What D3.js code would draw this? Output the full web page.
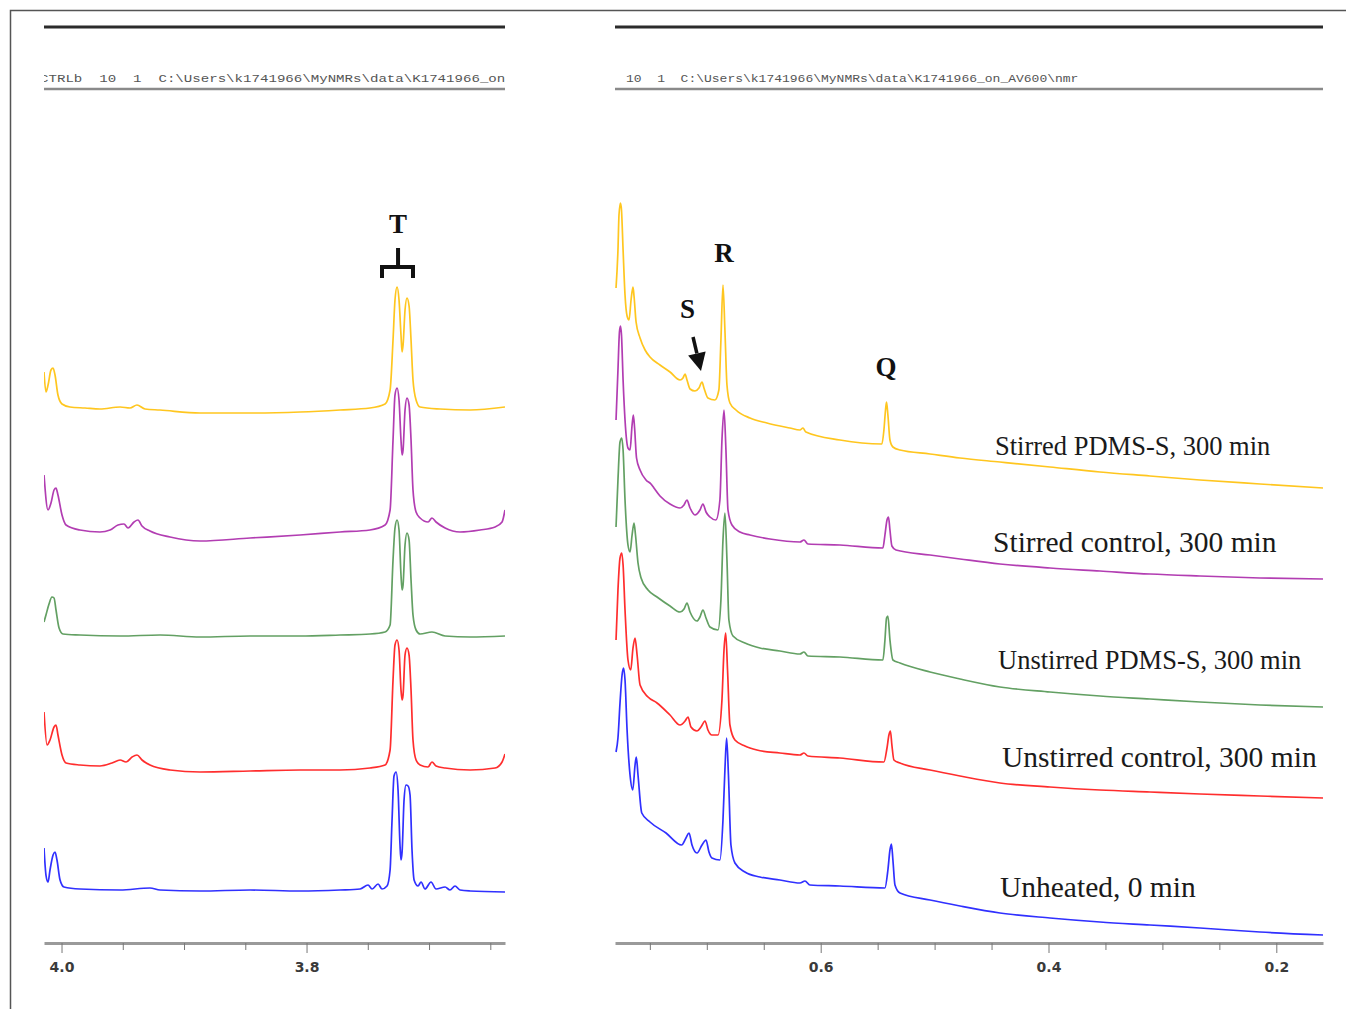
<!DOCTYPE html>
<html>
<head>
<meta charset="utf-8">
<script src="https://cdn.jsdelivr.net/npm/d3@7"></script>
<style>
  body { margin: 0; background: #fff; }
  svg { display: block; }
</style>
</head>
<body>
<div id="chart"></div>
<script>
// ---- data: chemical shift (ppm) vs stacked intensity (a.u.) ----
const seriesNames = [
  "Stirred PDMS-S, 300 min",
  "Stirred control, 300 min",
  "Unstirred PDMS-S, 300 min",
  "Unstirred control, 300 min",
  "Unheated, 0 min"
];
const seriesColors = ["#ffc61f", "#b23db2", "#63a063", "#ff2d2d", "#3030ff"];

// left window (4.0 - 3.65 ppm)
const leftStirredPdms = [[4.0143,571],[4.0127,551],[4.0110,558],[4.0086,573],[4.0069,575],[4.0053,568],[4.0029,548],[3.9996,539],[3.9931,536],[3.9808,535],[3.9686,534],[3.9522,536],[3.9441,535],[3.9384,538],[3.9318,534],[3.9196,533],[3.8869,530],[3.8461,530],[3.8053,531],[3.7727,533],[3.7482,535],[3.7359,539],[3.7318,553],[3.7294,603],[3.7278,643],[3.7261,656],[3.7245,643],[3.7229,608],[3.7220,591],[3.7212,598],[3.7196,633],[3.7180,645],[3.7163,637],[3.7147,603],[3.7131,563],[3.7106,543],[3.7073,536],[3.6910,534],[3.6665,533],[3.6380,536]];
const leftStirredCtrl = [[4.0143,468],[4.0110,433],[4.0086,440],[4.0061,453],[4.0045,455],[4.0029,448],[3.9996,428],[3.9963,418],[3.9849,413],[3.9686,411],[3.9604,413],[3.9539,418],[3.9490,419],[3.9457,415],[3.9408,421],[3.9376,423],[3.9343,417],[3.9278,412],[3.9114,406],[3.8869,402],[3.8461,405],[3.8053,408],[3.7727,411],[3.7482,413],[3.7359,418],[3.7318,433],[3.7294,503],[3.7278,548],[3.7261,555],[3.7245,543],[3.7229,503],[3.7220,488],[3.7212,493],[3.7196,533],[3.7180,545],[3.7163,538],[3.7147,503],[3.7131,453],[3.7106,431],[3.7073,425],[3.7008,421],[3.6976,425],[3.6943,421],[3.6869,415],[3.6747,411],[3.6584,413],[3.6461,416],[3.6404,421],[3.6380,433]];
const leftUnstirredPdms = [[4.0143,321],[4.0127,328],[4.0102,339],[4.0078,346],[4.0061,345],[4.0045,333],[4.0020,315],[3.9988,309],[3.9849,308],[3.9522,307],[3.9196,308],[3.8869,306],[3.8461,307],[3.8053,307],[3.7727,308],[3.7482,309],[3.7359,311],[3.7318,318],[3.7294,383],[3.7278,415],[3.7261,423],[3.7245,413],[3.7229,368],[3.7220,353],[3.7212,358],[3.7196,398],[3.7180,410],[3.7163,403],[3.7147,363],[3.7131,328],[3.7106,313],[3.7073,309],[3.6976,311],[3.6869,307],[3.6665,306],[3.6380,307]];
const leftUnstirredCtrl = [[4.0143,231],[4.0118,198],[4.0094,203],[4.0061,216],[4.0045,218],[4.0029,208],[3.9996,188],[3.9963,180],[3.9849,178],[3.9686,177],[3.9588,180],[3.9522,183],[3.9473,181],[3.9424,186],[3.9384,188],[3.9343,183],[3.9278,178],[3.9114,173],[3.8869,171],[3.8461,172],[3.8053,173],[3.7727,173],[3.7482,175],[3.7359,178],[3.7318,193],[3.7294,263],[3.7278,298],[3.7261,303],[3.7245,293],[3.7229,253],[3.7220,243],[3.7212,248],[3.7196,288],[3.7180,295],[3.7163,288],[3.7147,253],[3.7131,203],[3.7106,183],[3.7073,178],[3.7008,176],[3.6976,181],[3.6943,177],[3.6869,175],[3.6665,173],[3.6461,175],[3.6404,181],[3.6380,189]];
const leftUnheated = [[4.0143,95],[4.0127,68],[4.0110,61],[4.0094,73],[4.0069,88],[4.0053,91],[4.0037,83],[4.0012,63],[3.9980,56],[3.9849,54],[3.9522,53],[3.9278,55],[3.9196,53],[3.8869,52],[3.8461,53],[3.8053,52],[3.7727,53],[3.7563,54],[3.7498,58],[3.7465,54],[3.7416,59],[3.7384,54],[3.7343,57],[3.7318,73],[3.7302,123],[3.7286,167],[3.7269,171],[3.7253,153],[3.7237,98],[3.7229,83],[3.7220,91],[3.7204,143],[3.7188,158],[3.7171,157],[3.7155,148],[3.7139,93],[3.7122,63],[3.7090,57],[3.7065,61],[3.7033,54],[3.6984,61],[3.6943,54],[3.6869,56],[3.6829,53],[3.6788,57],[3.6747,53],[3.6665,52],[3.6380,51]];

// right window (0.78 - 0.16 ppm)
const rightStirredPdms = [[0.7797,655],[0.7780,693],[0.7771,728],[0.7758,740],[0.7749,733],[0.7735,693],[0.7718,648],[0.7700,627],[0.7683,623],[0.7665,643],[0.7648,656],[0.7639,647],[0.7621,621],[0.7586,605],[0.7542,593],[0.7499,586],[0.7411,578],[0.7323,571],[0.7235,563],[0.7209,565],[0.7191,569],[0.7174,563],[0.7147,554],[0.7104,552],[0.7069,555],[0.7042,561],[0.7025,555],[0.6990,545],[0.6929,543],[0.6894,553],[0.6876,603],[0.6858,658],[0.6841,613],[0.6823,558],[0.6797,540],[0.6744,533],[0.6621,525],[0.6472,520],[0.6271,515],[0.6182,513],[0.6156,515],[0.6130,511],[0.5831,503],[0.5463,499],[0.5445,513],[0.5431,533],[0.5422,541],[0.5410,528],[0.5392,503],[0.5366,496],[0.5304,493],[0.5040,489],[0.4777,485],[0.4426,481],[0.3987,476],[0.3548,471],[0.3109,467],[0.2670,463],[0.2143,459],[0.1590,455]];
const rightStirredCtrl = [[0.7797,523],[0.7780,573],[0.7767,611],[0.7758,617],[0.7749,608],[0.7735,563],[0.7718,523],[0.7692,495],[0.7674,493],[0.7656,518],[0.7645,528],[0.7634,515],[0.7617,485],[0.7586,473],[0.7534,463],[0.7490,459],[0.7464,455],[0.7411,447],[0.7323,439],[0.7235,435],[0.7200,438],[0.7174,443],[0.7147,435],[0.7104,428],[0.7060,433],[0.7034,439],[0.7007,431],[0.6972,426],[0.6920,423],[0.6885,443],[0.6867,503],[0.6849,533],[0.6832,493],[0.6814,433],[0.6779,418],[0.6709,411],[0.6621,408],[0.6446,404],[0.6182,401],[0.6147,403],[0.6112,399],[0.5831,398],[0.5454,395],[0.5436,408],[0.5418,423],[0.5405,426],[0.5392,413],[0.5375,397],[0.5339,393],[0.5040,388],[0.4777,384],[0.4426,379],[0.3987,375],[0.3548,372],[0.3109,369],[0.2670,367],[0.2143,365],[0.1590,364]];
const rightUnstirredPdms = [[0.7797,416],[0.7780,463],[0.7762,501],[0.7747,505],[0.7735,493],[0.7718,443],[0.7692,398],[0.7674,391],[0.7656,408],[0.7639,420],[0.7626,408],[0.7604,380],[0.7577,365],[0.7516,353],[0.7437,346],[0.7323,337],[0.7235,331],[0.7200,334],[0.7174,340],[0.7147,331],[0.7086,322],[0.7060,326],[0.7034,333],[0.7007,325],[0.6972,316],[0.6902,313],[0.6876,343],[0.6858,403],[0.6841,430],[0.6823,383],[0.6806,323],[0.6770,307],[0.6665,300],[0.6534,295],[0.6358,292],[0.6182,289],[0.6147,291],[0.6112,287],[0.5831,286],[0.5454,283],[0.5436,303],[0.5422,325],[0.5410,327],[0.5392,303],[0.5366,283],[0.5304,280],[0.5040,271],[0.4777,264],[0.4426,256],[0.3987,251],[0.3548,247],[0.3109,244],[0.2670,241],[0.2143,238],[0.1590,236]];
const rightUnstirredCtrl = [[0.7797,303],[0.7780,353],[0.7762,385],[0.7747,390],[0.7735,378],[0.7718,333],[0.7692,283],[0.7668,273],[0.7648,295],[0.7630,305],[0.7612,288],[0.7586,258],[0.7516,246],[0.7437,240],[0.7323,228],[0.7235,218],[0.7191,222],[0.7165,226],[0.7139,216],[0.7086,212],[0.7051,216],[0.7016,222],[0.6990,213],[0.6955,208],[0.6902,208],[0.6867,243],[0.6849,293],[0.6834,310],[0.6818,273],[0.6797,218],[0.6753,203],[0.6665,197],[0.6560,193],[0.6358,190],[0.6182,188],[0.6147,190],[0.6112,187],[0.5831,185],[0.5445,181],[0.5418,195],[0.5401,208],[0.5388,212],[0.5375,198],[0.5357,183],[0.5304,180],[0.5040,173],[0.4777,167],[0.4426,160],[0.3987,156],[0.3548,153],[0.3109,151],[0.2670,149],[0.2143,147],[0.1590,145]];
const rightUnheated = [[0.7797,191],[0.7780,205],[0.7762,240],[0.7744,268],[0.7731,275],[0.7718,263],[0.7700,213],[0.7674,168],[0.7650,153],[0.7630,178],[0.7619,186],[0.7604,168],[0.7571,130],[0.7499,121],[0.7358,110],[0.7221,98],[0.7183,105],[0.7156,110],[0.7130,98],[0.7086,90],[0.7042,98],[0.7007,103],[0.6981,91],[0.6955,85],[0.6885,83],[0.6858,123],[0.6841,173],[0.6826,205],[0.6810,168],[0.6788,98],[0.6753,80],[0.6665,71],[0.6534,66],[0.6358,63],[0.6182,60],[0.6138,62],[0.6095,58],[0.5831,57],[0.5436,55],[0.5410,73],[0.5392,93],[0.5379,99],[0.5366,83],[0.5348,58],[0.5304,50],[0.5040,43],[0.4777,37],[0.4426,30],[0.3987,25],[0.3548,21],[0.3109,18],[0.2670,15],[0.2143,11],[0.1590,8]];

const leftTraces = [leftStirredPdms, leftStirredCtrl, leftUnstirredPdms, leftUnstirredCtrl, leftUnheated];
const rightTraces = [rightStirredPdms, rightStirredCtrl, rightUnstirredPdms, rightUnstirredCtrl, rightUnheated];

// axis ticks
const leftTicks = [4.0, 3.95, 3.9, 3.85, 3.8, 3.75, 3.7, 3.65];
const leftTickLabels = [4.0, 3.8];
const rightTicks = [0.75, 0.7, 0.65, 0.6, 0.55, 0.5, 0.45, 0.4, 0.35, 0.3, 0.25, 0.2];
const rightTickLabels = [0.6, 0.4, 0.2];

// spectrometer header strings
const leftHeader = "CTRLb  10  1  C:\\Users\\k1741966\\MyNMRs\\data\\K1741966_on_AV600\\nmr";
const rightHeader = "10  1  C:\\Users\\k1741966\\MyNMRs\\data\\K1741966_on_AV600\\nmr";

// peak letters [text, ppm, intensity of baseline]
const leftPeakLetters = [["T", 3.7253, 710]];
const rightPeakLetters = [["R", 0.6849, 681], ["S", 0.7169, 625], ["Q", 0.5427, 567]];
// series labels anchored in the right window [ppm, intensity]
const labelAnchors = [[0.4470, 488], [0.4487, 391], [0.4443, 274], [0.4408, 176], [0.4426, 46]];

// ---- layout ----
const W = 1346, H = 1009;
const left = { x0: 44, x1: 505 };
const right = { x0: 615, x1: 1323 };
const axisY = 943;

const svg = d3.select("#chart").append("svg")
  .attr("width", W).attr("height", H)
  .attr("viewBox", [0, 0, W, H]);

// outer frame (top + left edge)
svg.append("path")
  .attr("d", `M10.5,${H}V10.5H${W}`)
  .attr("fill", "none").attr("stroke", "#555").attr("stroke-width", 1.5);

const xL = d3.scaleLinear().domain([4.0143, 3.638]).range([left.x0, left.x1]);
const xR = d3.scaleLinear().domain([0.7806, 0.159]).range([right.x0, right.x1]);
const y = d3.scaleLinear().domain([0, 943]).range([axisY, 0]);

const defs = svg.append("defs");
[["clipL", left], ["clipR", right]].forEach(([id, p]) => {
  defs.append("clipPath").attr("id", id)
    .append("rect").attr("x", p.x0).attr("y", 0).attr("width", p.x1 - p.x0).attr("height", H);
});

function drawPanel(p, x, traces, ticks, labels, header, headerX, headerW, clipId) {
  // top bars
  svg.append("line")
    .attr("x1", p.x0).attr("x2", p.x1).attr("y1", 27).attr("y2", 27)
    .attr("stroke", "#2b2b2b").attr("stroke-width", 3);
  svg.append("text")
    .attr("clip-path", `url(#${clipId})`)
    .attr("x", headerX).attr("y", 82)
    .attr("textLength", headerW).attr("lengthAdjust", "spacingAndGlyphs")
    .attr("font-family", "Liberation Mono, DejaVu Sans Mono, monospace")
    .attr("font-size", 11).attr("fill", "#555")
    .style("white-space", "pre")
    .text(header);
  svg.append("line")
    .attr("x1", p.x0).attr("x2", p.x1).attr("y1", 89).attr("y2", 89)
    .attr("stroke", "#8a8a8a").attr("stroke-width", 2.5);

  // spectra
  const line = d3.line()
    .x(d => x(d[0])).y(d => y(d[1]))
    .curve(d3.curveMonotoneX);
  svg.append("g").attr("clip-path", `url(#${clipId})`)
    .selectAll("path")
    .data(traces)
    .join("path")
    .attr("d", line)
    .attr("fill", "none")
    .attr("stroke", (d, i) => seriesColors[i])
    .attr("stroke-width", 1.7)
    .attr("stroke-linejoin", "round");

  // axis
  const ax = svg.append("g")
    .attr("transform", `translate(0,${axisY})`)
    .call(d3.axisBottom(x)
      .tickValues(ticks)
      .tickSize(7)
      .tickSizeOuter(0)
      .tickFormat(d => labels.includes(d) ? d.toFixed(1) : ""));
  ax.select(".domain").attr("stroke", "#9a9a9a").attr("stroke-width", 3);
  ax.selectAll(".tick line").attr("stroke", "#777").attr("stroke-width", 1)
    .attr("y2", d => labels.includes(d) ? 10 : 7);
  ax.selectAll(".tick text")
    .attr("y", 19)
    .attr("font-family", "DejaVu Sans, sans-serif")
    .attr("font-weight", "bold")
    .attr("font-size", 14)
    .attr("fill", "#3a3a3a");
}

drawPanel(left, xL, leftTraces, leftTicks, leftTickLabels, leftHeader, 40, leftHeader.length * 8.46, "clipL");
drawPanel(right, xR, rightTraces, rightTicks, rightTickLabels, rightHeader, 626, rightHeader.length * 7.8, "clipR");

// peak letters
const letterStyle = s => s
  .attr("font-family", "Liberation Serif, Times New Roman, serif")
  .attr("font-weight", "bold")
  .attr("font-size", 27)
  .attr("text-anchor", "middle")
  .attr("fill", "#111");
leftPeakLetters.forEach(([t, ppm, v]) => {
  svg.append("text").attr("x", xL(ppm)).attr("y", y(v)).text(t).call(letterStyle);
});
rightPeakLetters.forEach(([t, ppm, v]) => {
  svg.append("text").attr("x", xR(ppm)).attr("y", y(v)).text(t).call(letterStyle);
});

// bracket over the T doublet
const bx0 = xL(3.7384), bx1 = xL(3.7131), bxm = xL(3.7253);
svg.append("path")
  .attr("d", `M${bx0},${y(665)}V${y(676)}H${bx1}V${y(665)}M${bxm},${y(676)}V${y(695)}`)
  .attr("fill", "none").attr("stroke", "#111").attr("stroke-width", 4);

// arrow pointing to S
const ax0 = xR(0.7121), ay0 = y(606), ax1 = xR(0.7051), ay1 = y(572);
const ang = Math.atan2(ay1 - ay0, ax1 - ax0);
const headLen = 18, headW = 9;
const hx = ax1 - headLen * Math.cos(ang), hy = ay1 - headLen * Math.sin(ang);
svg.append("line")
  .attr("x1", ax0).attr("y1", ay0).attr("x2", hx).attr("y2", hy)
  .attr("stroke", "#111").attr("stroke-width", 3.5);
svg.append("path")
  .attr("d", `M${ax1},${ay1}L${hx + headW * Math.sin(ang)},${hy - headW * Math.cos(ang)}L${hx - headW * Math.sin(ang)},${hy + headW * Math.cos(ang)}Z`)
  .attr("fill", "#111");

// series labels
const labelSizes = [26.5, 29.5, 26.5, 29.5, 29.5];
svg.append("g")
  .selectAll("text")
  .data(seriesNames)
  .join("text")
  .attr("x", (d, i) => xR(labelAnchors[i][0]))
  .attr("y", (d, i) => y(labelAnchors[i][1]))
  .attr("font-family", "Liberation Serif, Times New Roman, serif")
  .attr("font-size", (d, i) => labelSizes[i])
  .attr("fill", "#1a1a1a")
  .text(d => d);
</script>
</body>
</html>
